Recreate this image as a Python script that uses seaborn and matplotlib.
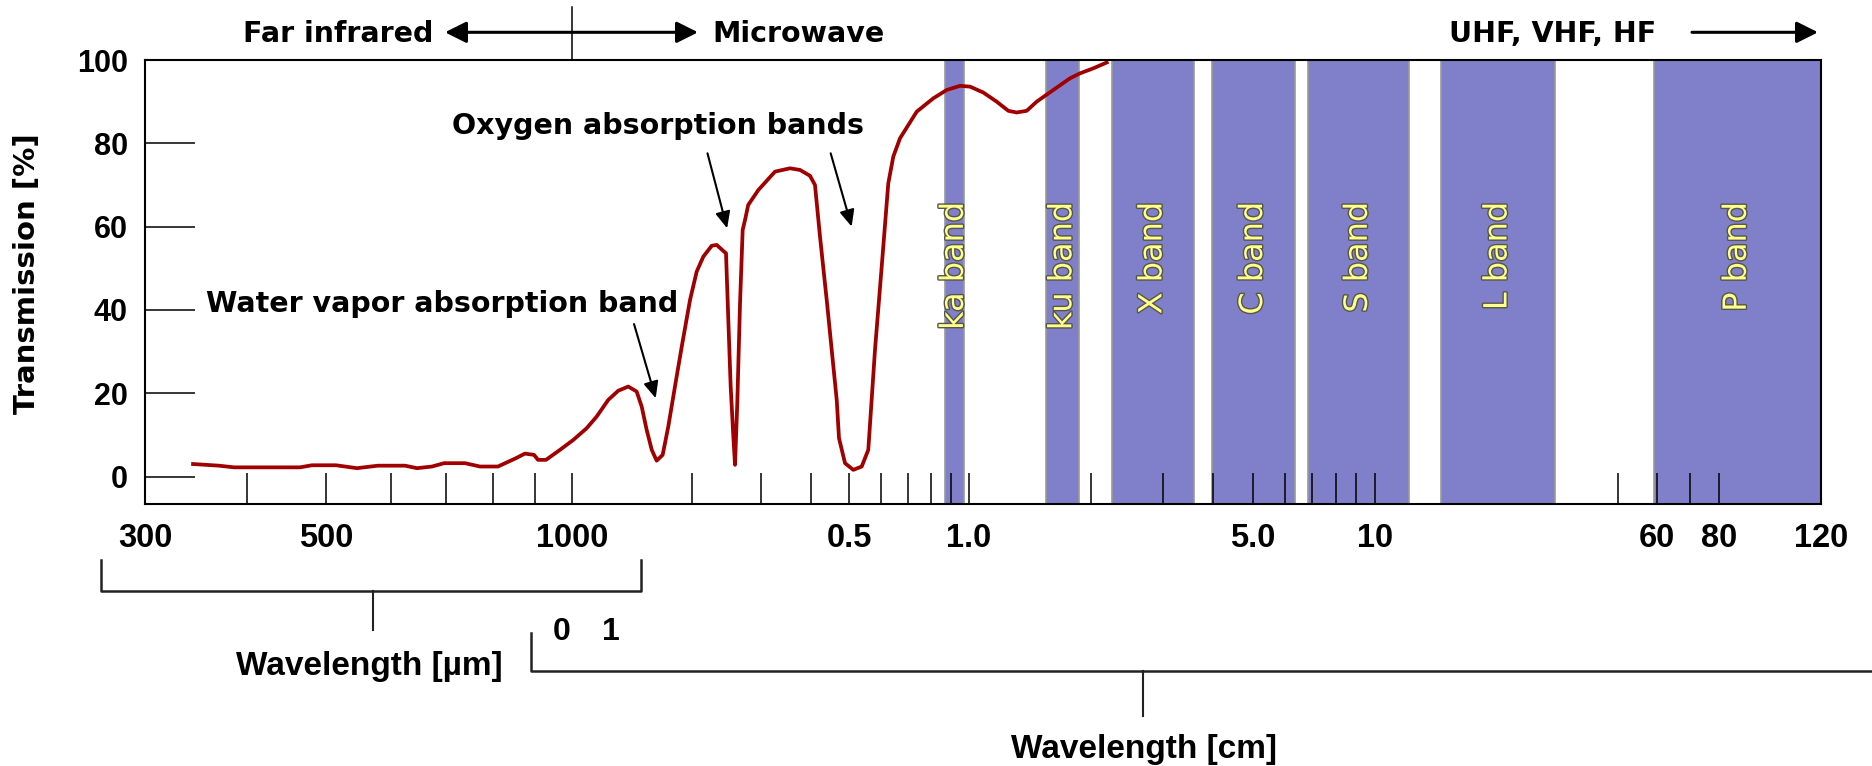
import numpy as np
import pandas as pd
import seaborn as sns
import matplotlib.pyplot as plt
import matplotlib.patheffects as pe
from matplotlib.lines import Line2D
from matplotlib.patches import FancyArrowPatch

# transmission curve (wavelength in cm, transmission in %)
wavelength_cm = [
    0.03435, 0.03696, 0.03856, 0.04644, 0.04804, 0.05140, 0.05453, 0.05785, 0.06245, 0.06460,
    0.06740, 0.06972, 0.07396, 0.07714, 0.08116, 0.08539, 0.08757, 0.08984, 0.09086, 0.09294,
    0.09667, 0.1008, 0.1089, 0.1154, 0.1234, 0.1308, 0.1386, 0.1455, 0.1498, 0.1542,
    0.1588, 0.1634, 0.1692, 0.1748, 0.1817, 0.1890, 0.1983, 0.2061, 0.2142, 0.2249,
    0.2315, 0.2415, 0.2443, 0.2476, 0.2510, 0.2549, 0.2574, 0.2608, 0.2650, 0.2691,
    0.2728, 0.2779, 0.2948, 0.3246, 0.3541, 0.3753, 0.3976, 0.4093, 0.4214, 0.4381,
    0.4510, 0.4643, 0.4705, 0.4872, 0.5112, 0.5367, 0.5576, 0.5797, 0.6027, 0.6262,
    0.6446, 0.6702, 0.7384, 0.8130, 0.8787, 0.9491, 1.006, 1.084, 1.170, 1.250,
    1.311, 1.387, 1.468, 1.613, 1.773, 1.877, 2.024, 2.184,
]
transmission = [
    3.0, 2.6, 2.2, 2.2, 2.7, 2.7, 2.0, 2.6, 2.6, 2.0,
    2.4, 3.2, 3.2, 2.4, 2.4, 4.4, 5.5, 5.2, 4.0, 4.0,
    6.4, 8.8, 11.6, 14.4, 18.4, 20.6, 21.6, 20.4, 16.8, 11.2,
    6.4, 3.8, 5.2, 12.0, 21.6, 31.2, 42.4, 49.2, 52.8, 55.4,
    55.6, 54.0, 53.6, 37.6, 21.6, 9.6, 2.8, 17.6, 41.6, 59.2,
    61.6, 65.2, 68.8, 73.2, 74.0, 73.6, 72.2, 70.0, 57.6, 42.4,
    30.4, 18.4, 9.2, 3.2, 1.6, 2.4, 6.4, 30.4, 50.4, 70.4,
    76.8, 81.2, 87.6, 90.8, 92.8, 93.8, 93.6, 92.2, 90.0, 87.8,
    87.4, 87.8, 90.0, 92.8, 95.6, 96.8, 98.0, 99.4,
]

# radar bands (cm)
band_names = ["ka band", "ku band", "X band", "C band", "S band", "L band", "P band"]
band_start = [0.87, 1.55, 2.25, 3.97, 6.84, 15.5, 59.0]
band_end = [0.97, 1.87, 3.58, 6.35, 12.5, 32.9, 120.0]

tick_major = [0.03, 0.05, 0.1, 0.5, 1.0, 5.0, 10, 60, 80, 120]
tick_labels = ["300", "500", "1000", "0.5", "1.0", "5.0", "10", "60", "80", "120"]
tick_minor = [0.04, 0.06, 0.07, 0.08, 0.09, 0.2, 0.3, 0.4, 0.6, 0.7, 0.8, 0.9,
              2, 3, 4, 6, 7, 8, 9, 50, 70]
y_ticks = [0, 20, 40, 60, 80, 100]

# the original axis is hand drawn: log spacing changes from segment to segment
seg_log = np.log10([0.03, 0.1, 1.0, 10.0, 50.0, 80.0, 120.0])
seg_pos = np.array([0, 427, 824, 1230, 1473, 1574, 1676], dtype=float)


def fwd(x):
    x = np.clip(np.asarray(x, dtype=float), 1e-6, None)
    return np.interp(np.log10(x), seg_log, seg_pos)


def inv(p):
    return 10 ** np.interp(np.asarray(p, dtype=float), seg_pos, seg_log)


W, H = 1872, 766
ARIAL = "Liberation Sans"


def fxy(px, py):
    return (px / W, 1 - py / H)


plt.rcParams["font.family"] = "DejaVu Sans"
fig = plt.figure(figsize=(W / 100, H / 100), dpi=100)
fig.patch.set_facecolor("white")
ax = fig.add_axes([145 / W, 1 - 504 / H, 1676 / W, 444 / H])
ax.set_xscale("function", functions=(fwd, inv))

band_color = "#8080CA"
for name, a, b in zip(band_names, band_start, band_end):
    ax.axvspan(a, b, facecolor=band_color, edgecolor="#9a9a9a", lw=1.2, zorder=1)
    xc = inv((fwd(a) + fwd(b)) / 2)
    ax.text(xc, 65.9, name, rotation=90, ha="center", va="top", fontsize=23,
            color="#FFFF8C", zorder=3,
            path_effects=[pe.withStroke(linewidth=2.0, foreground="#55554a")])

df = pd.DataFrame({"wavelength_cm": wavelength_cm, "transmission": transmission})
sns.lineplot(data=df, x="wavelength_cm", y="transmission", ax=ax, color="#A00000",
             lw=2.7, estimator=None, sort=False, zorder=4)

ax.set_xlim(0.03, 120)
ax.set_ylim(-6.6, 100)
ax.set_xlabel("")
ax.set_ylabel("")

ax.set_xticks(tick_major, tick_labels)
ax.set_xticks(tick_minor, minor=True)
ax.set_yticks(y_ticks)
ax.tick_params(axis="x", which="both", direction="in", length=22.3, width=1.1,
               pad=13.5, labelsize=23.5, color="black")
ax.tick_params(axis="y", direction="in", length=36, width=1.1, pad=12.5, labelsize=22)
for lab in ax.get_xticklabels() + ax.get_yticklabels():
    lab.set_fontweight("bold")
    lab.set_fontfamily(ARIAL)
for sp in ax.spines.values():
    sp.set_linewidth(1.5)
    sp.set_color("black")
    sp.set_zorder(5)

# annotations inside the plot
ax.text(0.07125, 82.2, "Oxygen absorption bands", ha="left", va="baseline",
        fontsize=20.5, fontweight="bold")
ax.text(0.03562, 39.6, "Water vapor absorption band", ha="left", va="baseline",
        fontsize=20.5, fontweight="bold")
thin = dict(arrowstyle="-|>,head_length=10,head_width=4.5", mutation_scale=1,
            color="black", lw=1.5, shrinkA=0, shrinkB=0)
ax.annotate("", xy=(0.2459, 59.6), xytext=(0.2194, 77.6), arrowprops=thin)
ax.annotate("", xy=(0.5063, 60.0), xytext=(0.4483, 77.6), arrowprops=thin)
ax.annotate("", xy=(0.1625, 18.8), xytext=(0.1433, 36.6), arrowprops=thin)

# far infrared / microwave divider above the plot
ax.axvline(0.1, ymin=1.0, ymax=1.119, color="black", lw=1.1, clip_on=False)

big = "-|>,head_length=13,head_width=6.5"
fig.text(*fxy(433, 41.5), "Far infrared", ha="right", va="baseline",
         fontsize=20.5, fontweight="bold")
fig.text(*fxy(712, 41.5), "Microwave", ha="left", va="baseline",
         fontsize=20.5, fontweight="bold")
fig.text(*fxy(1449, 41.5), "UHF, VHF, HF", ha="left", va="baseline",
         fontsize=20.5, fontweight="bold")
fig.add_artist(FancyArrowPatch(fxy(445, 32.3), fxy(698, 32.3), transform=fig.transFigure,
                               arrowstyle="<|-|>,head_length=13,head_width=6.5",
                               mutation_scale=1, color="black", lw=2.2,
                               shrinkA=0, shrinkB=0))
fig.add_artist(FancyArrowPatch(fxy(1692, 32.3), fxy(1818, 32.3), transform=fig.transFigure,
                               arrowstyle=big, mutation_scale=1, color="black", lw=2.2,
                               shrinkA=0, shrinkB=0))

# y label
fig.text(*fxy(27.5, 274), "Transmission [%]", rotation=90, ha="center", va="center",
         fontsize=21, fontweight="bold")

# brackets for the two wavelength units below the axis
def fig_line(pts, lw=1.5):
    xs = [p[0] / W for p in pts]
    ys = [1 - p[1] / H for p in pts]
    fig.add_artist(Line2D(xs, ys, transform=fig.transFigure, color="#222222", lw=lw))


fig_line([(101, 560), (101, 590.7), (641, 590.7), (641, 560)], lw=1.8)
fig_line([(373.3, 590.7), (373.3, 630)])
fig_line([(531, 633.3), (531, 671), (1872, 671)], lw=1.8)
fig_line([(1143, 671), (1143, 716)])

fig.text(*fxy(369.5, 675), "Wavelength [µm]", ha="center", va="baseline",
         fontsize=24, fontweight="bold", family=ARIAL)
fig.text(*fxy(1144, 758), "Wavelength [cm]", ha="center", va="baseline",
         fontsize=24, fontweight="bold", family=ARIAL)
fig.text(*fxy(561.7, 640), "0", ha="center", va="baseline", fontsize=23,
         fontweight="bold", family=ARIAL)
fig.text(*fxy(611, 640), "1", ha="center", va="baseline", fontsize=23,
         fontweight="bold", family=ARIAL)

fig.savefig("out.png", dpi=100)
